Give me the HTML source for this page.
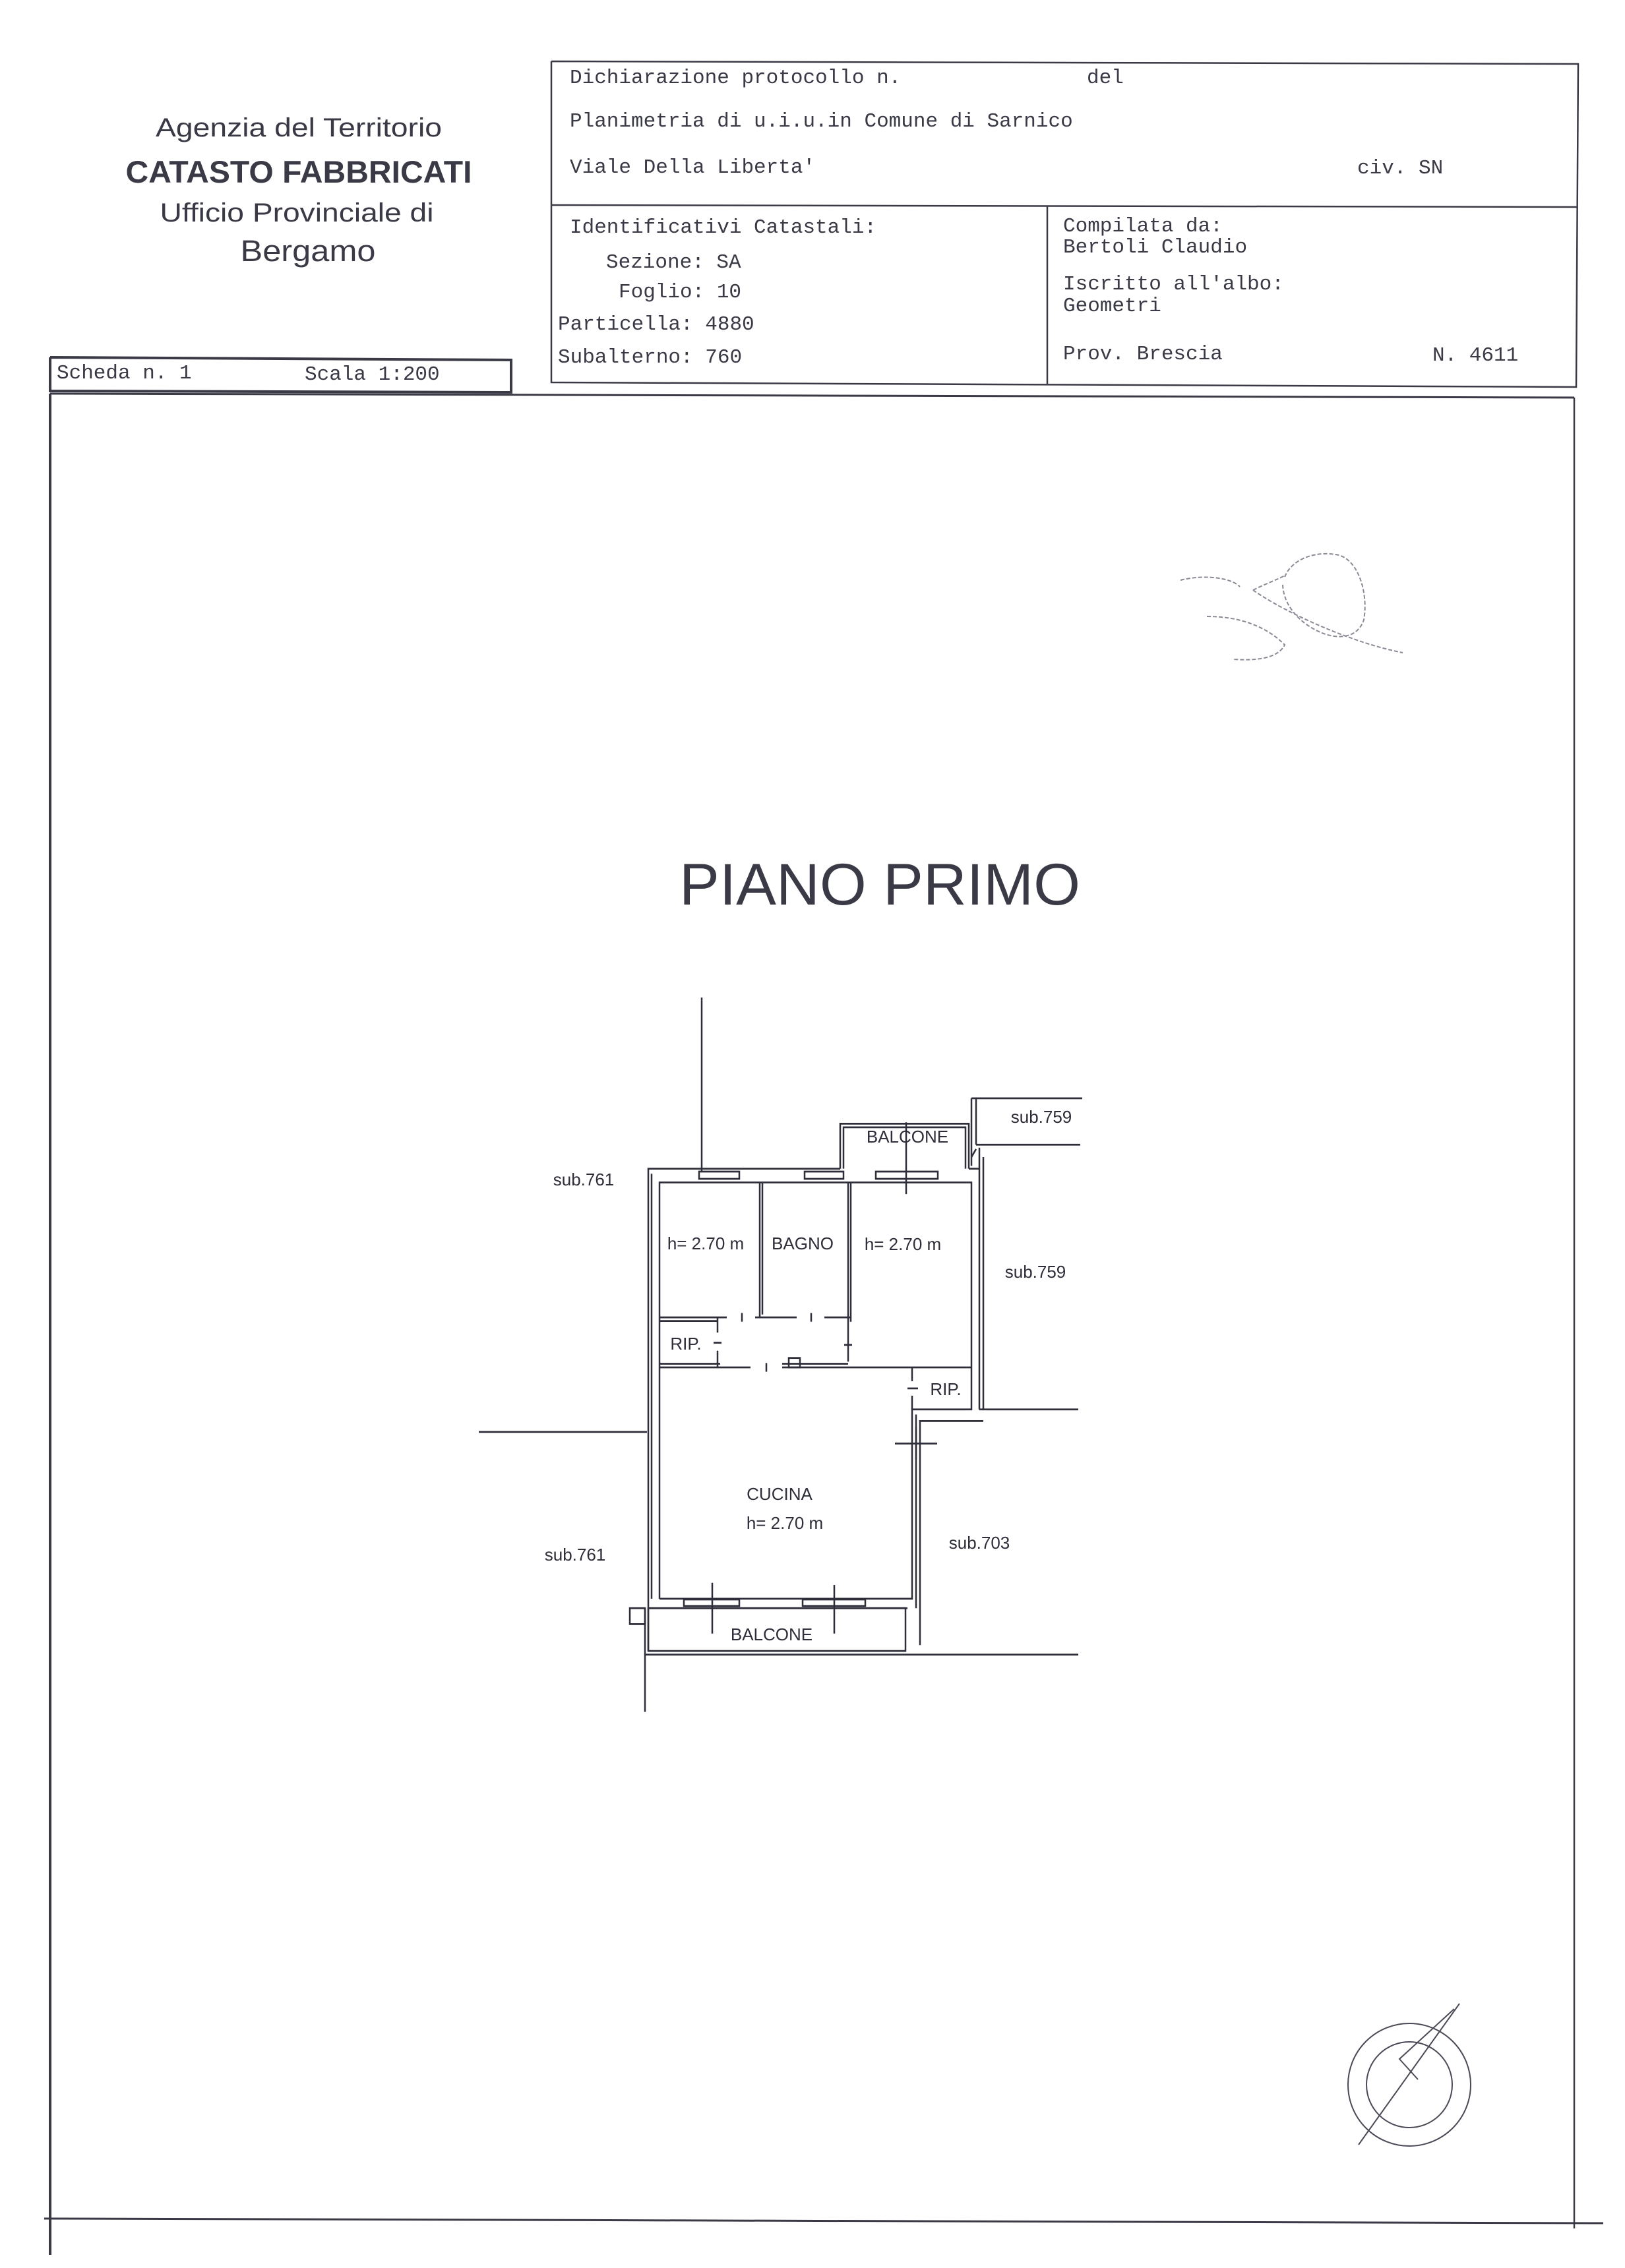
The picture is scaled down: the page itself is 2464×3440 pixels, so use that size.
<!DOCTYPE html>
<html><head><meta charset="utf-8"><style>
html,body{margin:0;padding:0;background:#fff}
svg{display:block}
.m{font-family:"Liberation Mono",monospace;font-size:31px;fill:#3a3a46}
.s{font-family:"Liberation Sans",sans-serif;fill:#3a3a46}
.p{font-family:"Liberation Sans",sans-serif;font-size:26px;fill:#2e2e3a}
</style></head><body>
<svg width="2464" height="3440" viewBox="0 0 2464 3440" xmlns="http://www.w3.org/2000/svg">
<rect width="2464" height="3440" fill="#fff"/>
<g stroke="#3a3a46" fill="none" stroke-width="2.5">
<polyline points="836,93 2393,97 2390,587 836,580 836,93"/>
<line x1="836" y1="311" x2="2392" y2="314"/>
<line x1="1588" y1="312" x2="1588" y2="582"/>
<polyline points="76,542 775,546 775,595 76,593 76,542" stroke-width="4"/>
<line x1="76" y1="597" x2="2387" y2="603" stroke-width="3"/>
<line x1="76" y1="597" x2="76" y2="3420" stroke-width="4"/>
<line x1="2387" y1="603" x2="2387" y2="3380"/>
<line x1="67" y1="3365" x2="2431" y2="3372" stroke-width="3"/>
</g>
<text class="s" x="453" y="207" font-size="40" text-anchor="middle" textLength="434" lengthAdjust="spacingAndGlyphs">Agenzia del Territorio</text>
<text class="s" x="453" y="277" font-size="47" font-weight="bold" text-anchor="middle" textLength="525" lengthAdjust="spacingAndGlyphs">CATASTO FABBRICATI</text>
<text class="s" x="450" y="336" font-size="40" text-anchor="middle" textLength="415" lengthAdjust="spacingAndGlyphs">Ufficio Provinciale di</text>
<text class="s" x="467" y="396" font-size="45" text-anchor="middle" textLength="205" lengthAdjust="spacingAndGlyphs">Bergamo</text>

<text class="m" x="864" y="126">Dichiarazione protocollo n.</text>
<text class="m" x="1648" y="126">del</text>
<text class="m" x="864" y="192">Planimetria di u.i.u.in Comune di Sarnico</text>
<text class="m" x="864" y="262">Viale Della Liberta'</text>
<text class="m" x="2058" y="263">civ. SN</text>
<text class="m" x="864" y="353">Identificativi Catastali:</text>
<text class="m" x="919" y="406">Sezione: SA</text>
<text class="m" x="938" y="451">Foglio: 10</text>
<text class="m" x="846" y="500">Particella: 4880</text>
<text class="m" x="846" y="550">Subalterno: 760</text>
<text class="m" x="1612" y="351">Compilata da:</text>
<text class="m" x="1612" y="383">Bertoli Claudio</text>
<text class="m" x="1612" y="439">Iscritto all'albo:</text>
<text class="m" x="1612" y="472">Geometri</text>
<text class="m" x="1612" y="545">Prov. Brescia</text>
<text class="m" x="2172" y="547">N. 4611</text>
<text class="m" x="86" y="574">Scheda n. 1</text>
<text class="m" x="462" y="576">Scala 1:200</text>

<g stroke="#8a8a96" fill="none" stroke-width="2" stroke-dasharray="6 3">
<path d="M1948,875 C1960,845 2000,835 2030,842 C2060,850 2075,900 2068,940 C2060,965 2035,970 2010,962 C1975,950 1945,920 1945,885"/>
<path d="M1900,895 C1950,930 2050,975 2127,990"/>
<path d="M1900,895 C1920,885 1935,880 1950,872"/>
<path d="M1790,880 C1830,870 1870,878 1880,890"/>
<path d="M1830,935 C1880,935 1920,950 1948,978 C1940,995 1915,1003 1870,1000"/>
</g>

<text class="s" x="1030" y="1372" font-size="89" textLength="608" lengthAdjust="spacingAndGlyphs" fill="#2e2e3a">PIANO PRIMO</text>

<g transform="translate(0,1513) scale(1,1.1) translate(0,-1513)">
<g stroke="#2e2e3a" fill="none" stroke-width="2.5">
<line x1="1064" y1="1513" x2="1064" y2="1752"/>
<polyline points="1064,1749 983,1749 983,2414"/>
<line x1="988" y1="1756" x2="988" y2="2342"/>
<polyline points="1000,2342 1000,1768 1473,1768 1473,2081 1383,2081 1383,2342 1000,2342"/>
<line x1="1064" y1="1749" x2="1274" y2="1749"/>
<line x1="1469" y1="1749" x2="1485" y2="1749"/>
<line x1="1485" y1="1720" x2="1485" y2="2081"/>
<line x1="1485" y1="2081" x2="1635" y2="2081"/>
<polyline points="1491,2097 1395,2097 1395,2406"/>
<line x1="1389" y1="2088" x2="1389" y2="2355"/>
<line x1="1480" y1="1722" x2="1473" y2="1733"/>
<line x1="1491" y1="1733" x2="1491" y2="2081"/>
<rect x="1060" y="1753" width="61" height="10"/>
<rect x="1220" y="1753" width="59" height="10"/>
<rect x="1328" y="1753" width="94" height="10"/>
<polyline points="1274,1749 1274,1687 1469,1687 1469,1749"/>
<polyline points="1279,1749 1279,1692 1464,1692 1464,1749"/>
<line x1="1374" y1="1685" x2="1374" y2="1784"/>
<line x1="1473" y1="1652" x2="1473" y2="1745"/>
<line x1="1480" y1="1652" x2="1480" y2="1716"/>
<line x1="1473" y1="1652" x2="1641" y2="1652"/>
<line x1="1480" y1="1716" x2="1638" y2="1716"/>
<line x1="1152" y1="1768" x2="1152" y2="1954"/>
<line x1="1156" y1="1768" x2="1156" y2="1950"/>
<line x1="1286" y1="1768" x2="1286" y2="2015"/>
<line x1="1290" y1="1768" x2="1290" y2="1960"/>
<line x1="1000" y1="1954" x2="1102" y2="1954"/>
<line x1="1000" y1="1959" x2="1088" y2="1959"/>
<line x1="1145" y1="1954" x2="1208" y2="1954"/>
<line x1="1250" y1="1954" x2="1290" y2="1954"/>
<line x1="1088" y1="1954" x2="1088" y2="1975"/>
<line x1="1088" y1="2000" x2="1088" y2="2023"/>
<line x1="1082" y1="1989" x2="1094" y2="1989"/>
<line x1="1125" y1="1948" x2="1125" y2="1960"/>
<line x1="1230" y1="1948" x2="1230" y2="1960"/>
<line x1="1280" y1="1992" x2="1292" y2="1992"/>
<line x1="1000" y1="2023" x2="1138" y2="2023"/>
<line x1="1000" y1="2018" x2="1092" y2="2018"/>
<line x1="1186" y1="2023" x2="1473" y2="2023"/>
<line x1="1186" y1="2018" x2="1286" y2="2018"/>
<line x1="1162" y1="2017" x2="1162" y2="2029"/>
<rect x="1196" y="2010" width="17" height="13"/>
<line x1="1383" y1="2023" x2="1383" y2="2042"/>
<line x1="1383" y1="2062" x2="1383" y2="2081"/>
<line x1="1376" y1="2052" x2="1392" y2="2052"/>
<line x1="1357" y1="2128" x2="1421" y2="2128"/>
<line x1="1389" y1="2105" x2="1389" y2="2150"/>
<line x1="983" y1="2355" x2="1376" y2="2355"/>
<rect x="1037" y="2343" width="84" height="9"/>
<rect x="1217" y="2343" width="95" height="9"/>
<line x1="1080" y1="2320" x2="1080" y2="2390"/>
<line x1="1265" y1="2323" x2="1265" y2="2390"/>
<rect x="983" y="2355" width="390" height="59"/>
<rect x="955" y="2355" width="23" height="22"/>
<line x1="978" y1="2419" x2="1635" y2="2419"/>
<line x1="978" y1="2355" x2="978" y2="2498"/>
<line x1="726" y1="2112" x2="981" y2="2112"/>
</g>
</g>
<text class="p" x="885" y="1798" text-anchor="middle">sub.761</text>
<text class="p" x="1579" y="1703" text-anchor="middle">sub.759</text>
<text class="p" x="1570" y="1938" text-anchor="middle">sub.759</text>
<text class="p" x="1485" y="2349" text-anchor="middle">sub.703</text>
<text class="p" x="872" y="2367" text-anchor="middle">sub.761</text>
<text class="p" x="1376" y="1733" text-anchor="middle">BALCONE</text>
<text class="p" x="1070" y="1895" text-anchor="middle">h= 2.70 m</text>
<text class="p" x="1217" y="1895" text-anchor="middle">BAGNO</text>
<text class="p" x="1369" y="1896" text-anchor="middle">h= 2.70 m</text>
<text class="p" x="1040" y="2047" text-anchor="middle">RIP.</text>
<text class="p" x="1434" y="2116" text-anchor="middle">RIP.</text>
<text class="p" x="1182" y="2275" text-anchor="middle">CUCINA</text>
<text class="p" x="1190" y="2319" text-anchor="middle">h= 2.70 m</text>
<text class="p" x="1170" y="2488" text-anchor="middle">BALCONE</text>

<g stroke="#4a4a56" fill="none" stroke-width="2">
<circle cx="2137" cy="3162" r="93"/>
<circle cx="2137" cy="3162" r="65"/>
<line x1="2060" y1="3253" x2="2213" y2="3039"/>
<polyline points="2205,3047 2122,3123 2150,3154"/>
</g>
</svg>
</body></html>
